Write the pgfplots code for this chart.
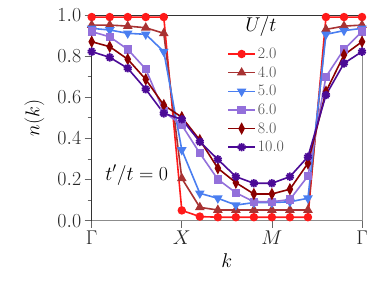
\documentclass[border=0pt]{standalone}
\usepackage{fix-cm}
\usepackage{pgfplots}
\usepackage{pgfplotstable}
\pgfplotsset{compat=1.18}
\usetikzlibrary{plotmarks}
\definecolor{cA}{HTML}{FF1A1A}
\definecolor{cB}{HTML}{A83232}
\definecolor{cC}{HTML}{4A7EF0}
\definecolor{cD}{HTML}{9370DB}
\definecolor{cE}{HTML}{8B0000}
\definecolor{cF}{HTML}{4B0A96}
\pgfplotstableread{
x u2 u4 u5 u6 u8 u10
0 0.99 0.951 0.935 0.919 0.870 0.822
1 0.99 0.951 0.927 0.894 0.846 0.794
2 0.99 0.946 0.911 0.833 0.785 0.741
3 0.99 0.938 0.906 0.737 0.687 0.639
4 0.99 0.911 0.822 0.530 0.562 0.522
5 0.05 0.206 0.344 0.465 0.503 0.493
6 0.02 0.065 0.133 0.328 0.392 0.384
7 0.017 0.052 0.109 0.201 0.255 0.298
8 0.017 0.052 0.076 0.136 0.185 0.214
9 0.017 0.052 0.088 0.092 0.130 0.182
10 0.017 0.052 0.088 0.092 0.130 0.182
11 0.017 0.052 0.092 0.103 0.153 0.214
12 0.017 0.052 0.109 0.217 0.279 0.311
13 0.99 0.930 0.906 0.700 0.627 0.611
14 0.99 0.946 0.924 0.833 0.806 0.765
15 0.99 0.951 0.935 0.919 0.870 0.822
}\nk
\begin{document}
\begin{tikzpicture}
\useasboundingbox (0,0) rectangle (382bp,287bp);
\begin{axis}[
  at={(91.7bp,66.3bp)}, anchor=south west,
  width=270.3bp, height=205.7bp, scale only axis,
  xmin=0, xmax=15, ymin=0, ymax=1,
  clip=false,
  separate axis lines,
  axis line style={draw=none},
  xtick={0,5,10,15}, xticklabels={$\Gamma$,$X$,$M$,$\Gamma$},
  ytick={0,0.2,0.4,0.6,0.8,1}, minor ytick={0.1,0.3,0.5,0.7,0.9},
  xtick pos=left, ytick pos=left, tick align=outside,
  major tick length=7bp, minor tick length=4bp,
  every tick/.append style={black!60, line width=0.8bp},
  every minor tick/.append style={black!60, line width=0.8bp},
  yticklabel style={/pgf/number format/.cd, fixed, fixed zerofill, precision=1},
  tick label style={font=\fontsize{20}{24}\selectfont, text=black!85},
  label style={font=\fontsize{20}{24}\selectfont},
  xlabel={$k$}, ylabel={$n(k)$},
  xlabel style={at={(axis description cs:0.4995,-0.196)}, anchor=center},
  ylabel style={at={(axis description cs:-0.212,0.5)}, anchor=center},
  every axis plot/.append style={line width=1.6bp},
  legend style={draw=none, fill=none, at={(rel axis cs:0.49,0.86)}, anchor=north west,
    font=\fontsize{16}{19}\selectfont, text=black!70, row sep=2.6bp},
  legend cell align=left,
  legend image code/.code={\draw[mark repeat=2,mark phase=2] plot coordinates {(0bp,0bp) (13.5bp,0bp) (27bp,0bp)};},
]
\draw[black!45, line width=0.8bp] (rel axis cs:0,0) -- (rel axis cs:1,0) -- (rel axis cs:1,1);
\draw[black!80, line width=0.8bp] (rel axis cs:0,0) -- (rel axis cs:0,1) -- (rel axis cs:1,1);
\addplot[cA, mark=*, mark size=3.4bp, mark options={solid}] table[x=x,y=u2] {\nk};
\addlegendentry{2.0}
\addplot[cB, mark=triangle*, mark size=4bp, mark options={solid}] table[x=x,y=u4] {\nk};
\addlegendentry{4.0}
\addplot[cC, mark=triangle*, mark size=4bp, mark options={solid, rotate=180}] table[x=x,y=u5] {\nk};
\addlegendentry{5.0}
\addplot[cD, mark=square*, mark size=3.4bp, mark options={solid}] table[x=x,y=u6] {\nk};
\addlegendentry{6.0}
\addplot[cE, mark=diamond*, mark size=4.6bp, mark options={solid, xscale=0.7}] table[x=x,y=u8] {\nk};
\addlegendentry{8.0}
\addplot[cF, mark=10-pointed star, mark size=4.2bp, mark options={solid}] table[x=x,y=u10] {\nk};
\addlegendentry{10.0}
\node[font=\fontsize{20}{24}\selectfont] at (rel axis cs:0.626,0.942) {$U/t$};
\node[font=\fontsize{20}{24}\selectfont] at (axis cs:2.5,0.222) {$t'/t=0$};
\end{axis}
\end{tikzpicture}
\end{document}
